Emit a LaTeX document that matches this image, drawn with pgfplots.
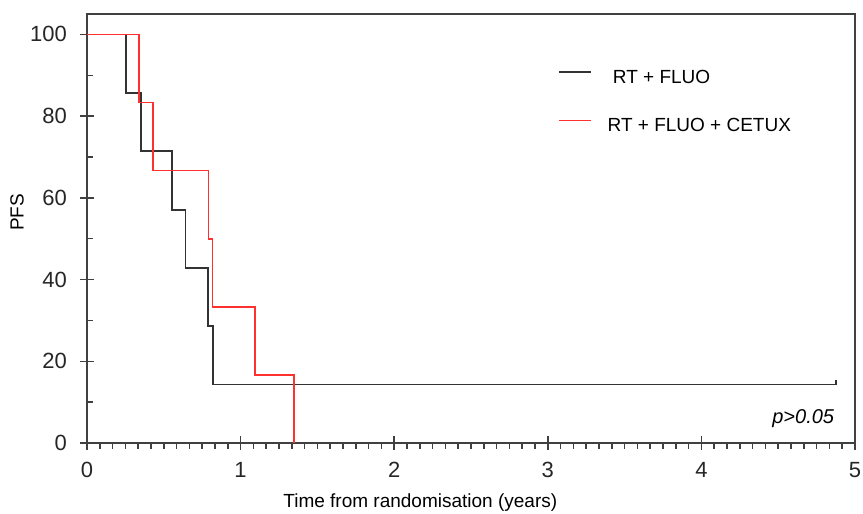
\documentclass[border=0pt]{standalone}
\usepackage{fontspec}
\setmainfont{Liberation Sans}
\usepackage{pgfplots}
\pgfplotsset{compat=1.18}
\definecolor{kmblack}{HTML}{333333}
\definecolor{kmred}{HTML}{FF3030}
\definecolor{axisgray}{HTML}{404040}

\begin{document}
\begin{tikzpicture}
\begin{axis}[
  scale only axis,
  width=384pt, height=214.5pt,
  xmin=0, xmax=5, ymin=0, ymax=105,
  xtick={0,1,2,3,4,5}, ytick={0,20,40,60,80,100},
  minor x tick num=11, minor y tick num=1,
  xtick pos=bottom, ytick pos=left,
  tick align=center,
  major tick length=7pt, minor tick length=3pt,
  minor x tick style={yshift=-1.5pt},
  minor y tick style={xshift=1.5pt},
  axis line style={axisgray, line width=0.75pt},
  every tick/.style={axisgray, line width=0.75pt},
  font=\fontsize{9.5}{11}\selectfont,
  tick label style={font=\fontsize{11}{13}\selectfont, text=black!85},
  xticklabel style={yshift=-2.5pt},
  yticklabel style={xshift=-3pt},
  /pgf/number format/assume math mode=true,
  xlabel={Time from randomisation (years)},
  ylabel={PFS},
  xlabel style={at={(axis description cs:0.434,-0.140)}, anchor=center},
  ylabel style={at={(axis description cs:-0.091,0.538)}, anchor=center},
  legend style={at={(0.605,0.889)}, anchor=north west, draw=none, fill=none,
    row sep=12pt, font=\fontsize{9.5}{11}\selectfont},
  legend cell align=left,
  legend image code/.code={\draw[#1] (0pt,3pt) -- (16pt,3pt); \path (22pt,3pt);},
  clip=false,
]
\addplot[const plot, color=kmblack, line width=0.8pt] coordinates {
(0,100) (0.254,85.7) (0.352,71.4) (0.553,57.1) (0.640,42.9)
(0.786,28.6) (0.822,14.3) (4.876,14.3) (4.876,15.5)
};
\addlegendentry{\ RT + FLUO}
\addplot[const plot, color=kmred, line width=0.8pt] coordinates {
(0,100) (0.339,83.3) (0.430,66.7) (0.792,50.0) (0.818,33.3)
(1.092,16.7) (1.346,0)
};
\addlegendentry{RT + FLUO + CETUX}
\node[anchor=east, font=\fontsize{10}{12}\selectfont\itshape] at (rel axis cs:0.982,0.058) {p>0.05};
\end{axis}
\pgfresetboundingbox
\path (-43.5pt,-35.5pt) rectangle (388pt,221.5pt);
\end{tikzpicture}
\end{document}
